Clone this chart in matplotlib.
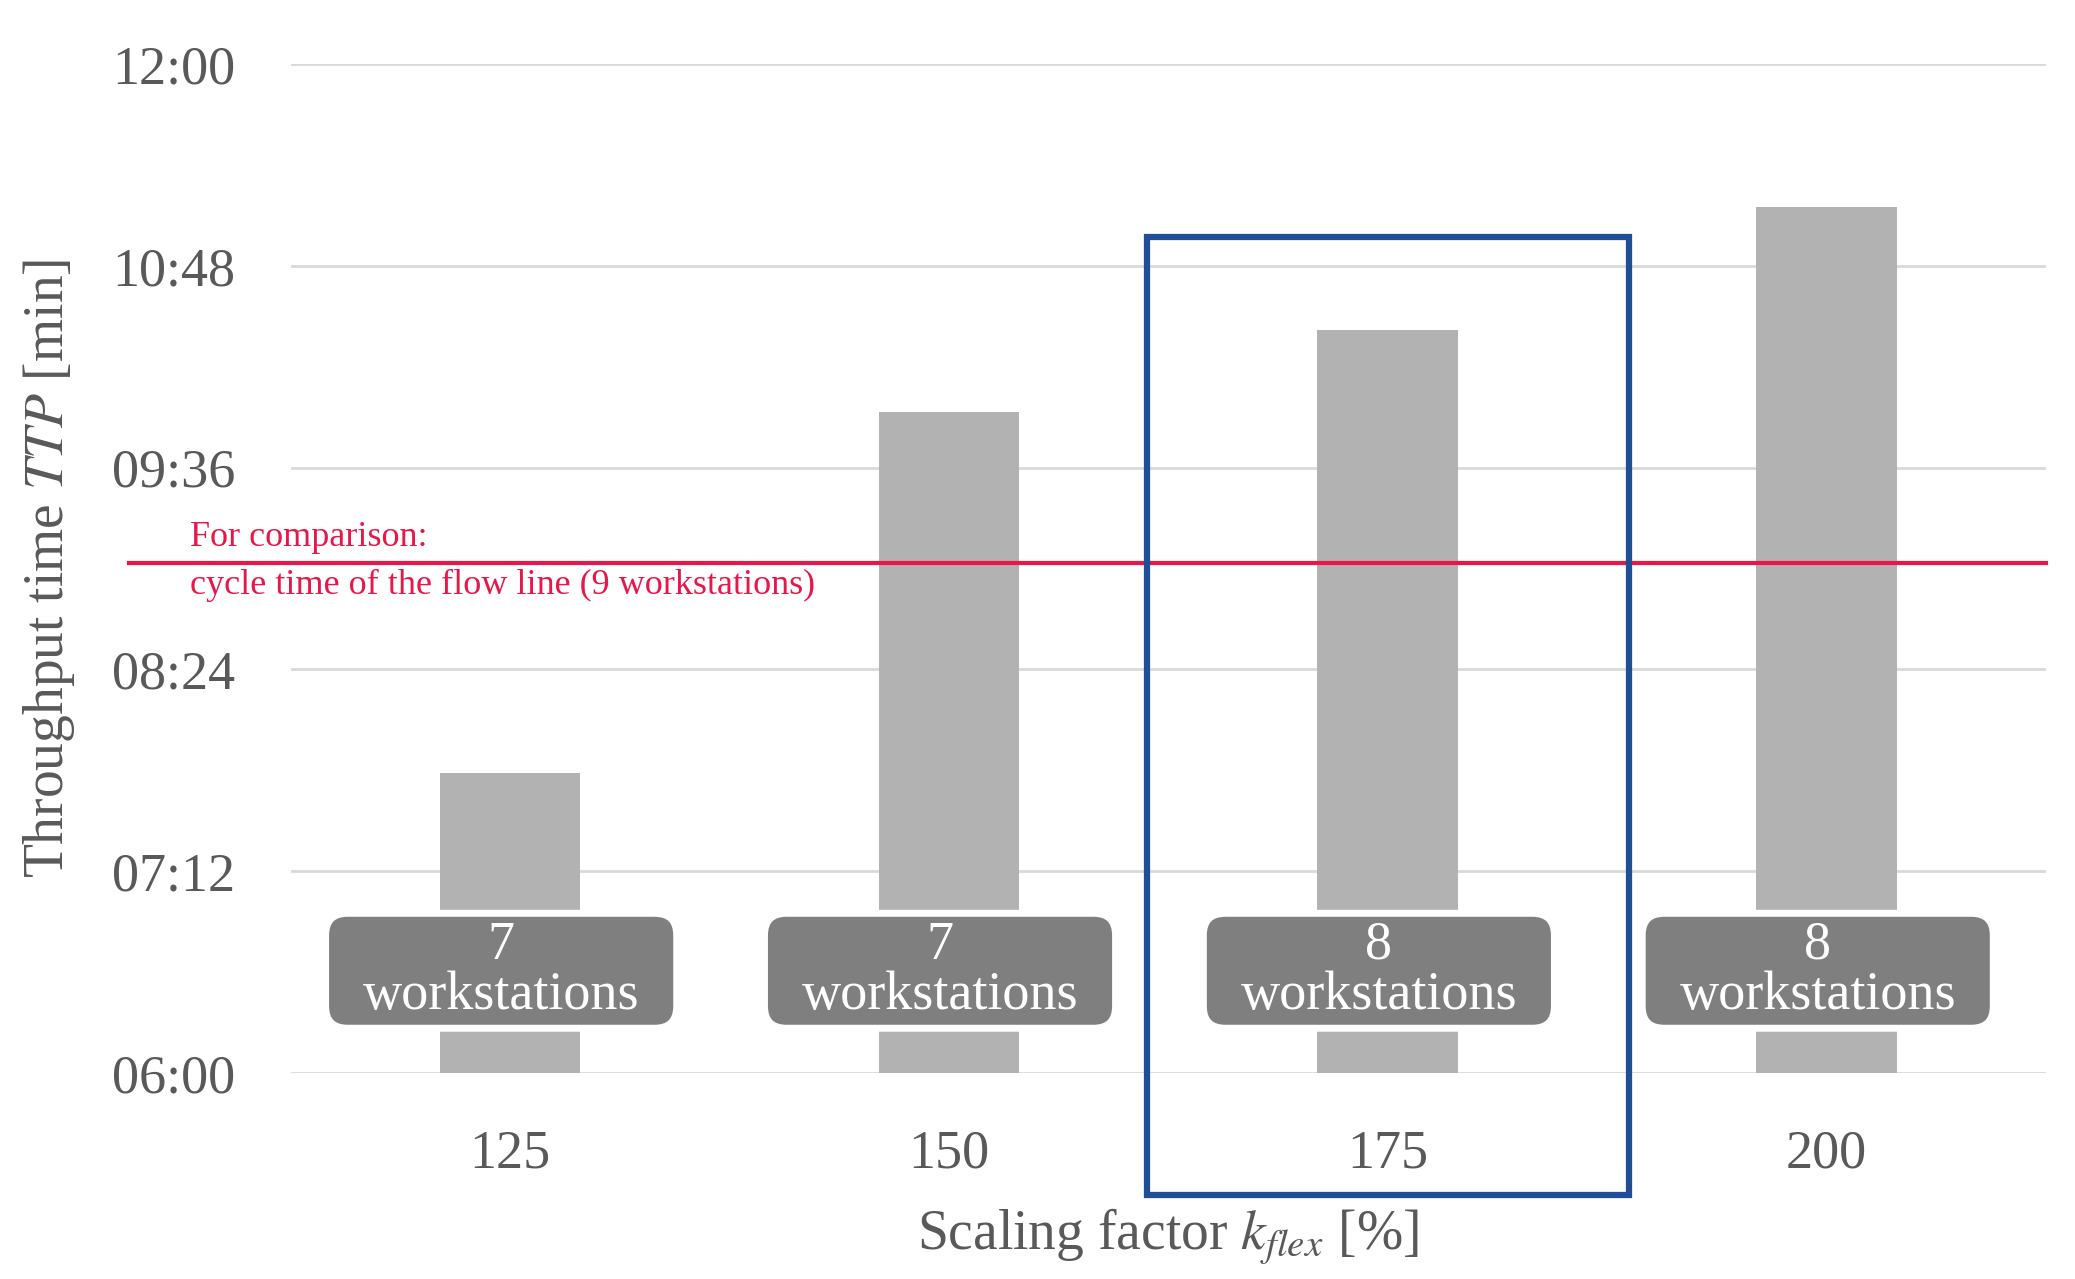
import matplotlib
matplotlib.use("Agg")
import matplotlib.pyplot as plt
from matplotlib.patches import FancyBboxPatch, Rectangle

plt.rcParams["font.family"] = ["Liberation Serif", "DejaVu Serif"]
plt.rcParams["mathtext.fontset"] = "stix"

categories = ["125", "150", "175", "200"]
ttp_min = [467, 596, 625, 669]          # throughput time in minutes
stations = ["7\nworkstations", "7\nworkstations", "8\nworkstations", "8\nworkstations"]
flow_line_min = 542
yticks = [360, 432, 504, 576, 648, 720]
yticklabels = ["06:00", "07:12", "08:24", "09:36", "10:48", "12:00"]

GREY = "#595959"
fig = plt.figure(figsize=(20.75, 12.79), dpi=100)
ax = fig.add_axes([0.14, 0.161, 0.846, 0.789])

x = range(len(categories))
ax.bar(x, [v - 360 for v in ttp_min], bottom=360, width=0.32, color="#b2b2b2", zorder=2)
for i, lab in enumerate(stations):
    box = FancyBboxPatch((i - 0.42, 376), 0.8, 41, boxstyle="round,pad=0,rounding_size=0.05",
                         mutation_aspect=157, facecolor="#7f7f7f",
                         edgecolor="white", linewidth=5, zorder=3)
    ax.add_patch(box)
    ax.text(i - 0.02, 396.5, lab, ha="center", va="center", color="white",
            fontsize=39, linespacing=1.0, zorder=4)

ax.set_xlim(-0.5, 3.5)
ax.set_ylim(360, 720)
ax.set_yticks(yticks)
ax.set_yticklabels(yticklabels)
ax.set_xticks(list(x))
ax.set_xticklabels(categories)
ax.grid(axis="y", color="#d9d9d9", linewidth=2, zorder=0)
for s in ax.spines.values():
    s.set_visible(False)
ax.tick_params(length=0, labelsize=39, labelcolor=GREY, pad=40)
ax.tick_params(axis="x", pad=40)

ax.plot([-0.867, 3.5], [flow_line_min, flow_line_min], color="#e8174a", linewidth=3,
        clip_on=False, zorder=5)
ax.text(-0.73, flow_line_min + 3, "For comparison:", color="#e8174a", fontsize=26, va="bottom")
ax.text(-0.73, flow_line_min - 2, "cycle time of the flow line (9 workstations)",
        color="#e8174a", fontsize=26, va="top")

ax.set_ylabel(r"Throughput time $\mathit{TTP}$ [min]", fontsize=40, color=GREY, labelpad=25)
ax.set_xlabel(r"Scaling factor $k_{flex}$ [%]", fontsize=40, color=GREY, labelpad=20)

fig.patches.append(Rectangle((0.5526, 0.0656), 0.2325, 0.749, transform=fig.transFigure,
                             fill=False, edgecolor="#1f4e96", linewidth=4.5, zorder=10))

fig.savefig("out.png", dpi=100)
